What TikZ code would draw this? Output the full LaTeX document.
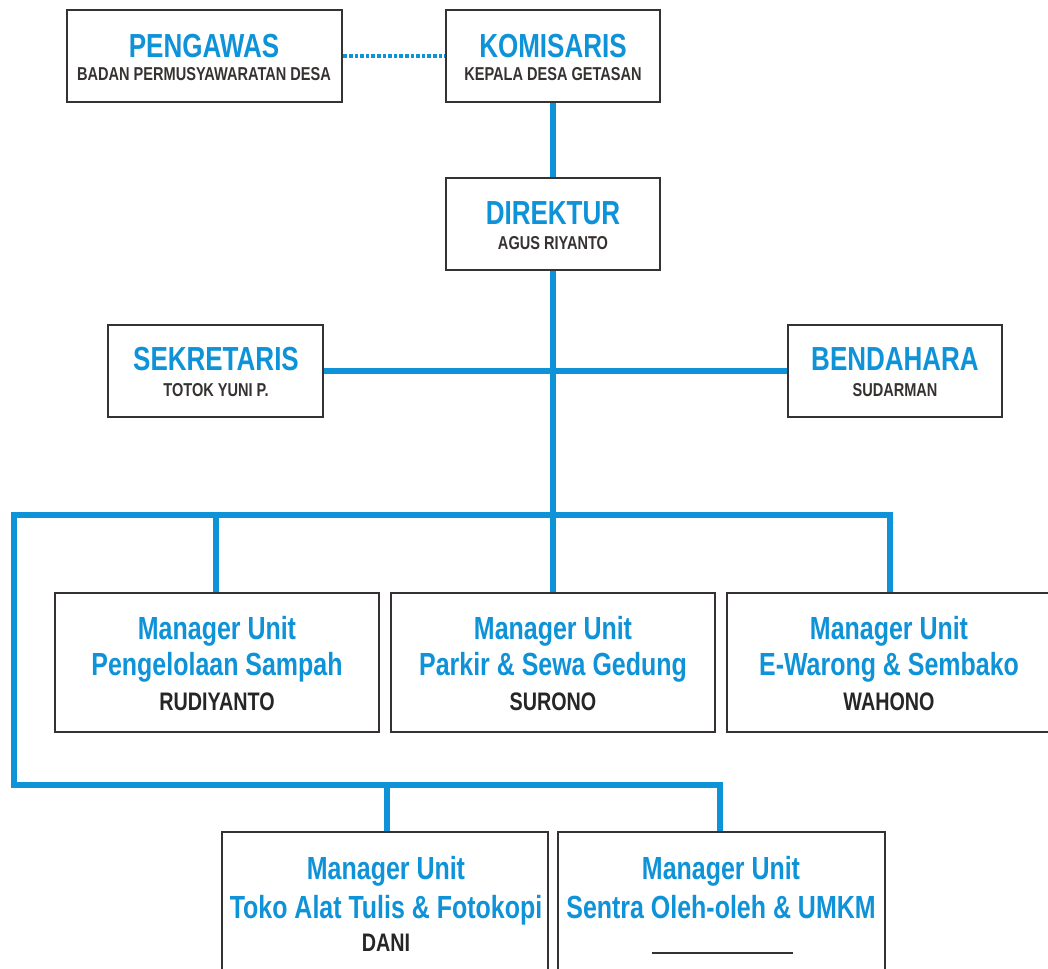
\documentclass[tikz,border=0pt]{standalone}
\usepackage{fontspec}
\setmainfont{Liberation Sans}[FakeStretch=0.78]
\usetikzlibrary{fit,backgrounds}
\definecolor{orgblue}{RGB}{14,146,216}
\definecolor{boxgray}{RGB}{55,50,50}
\begin{document}
\begin{tikzpicture}[x=0.75pt,y=-0.75pt,
  box/.style={draw=boxgray,line width=2.2pt,fill=white,inner sep=0pt},
  link/.style={draw=orgblue,line width=4.5pt},
  dotlink/.style={draw=orgblue,line width=3.2pt,dash pattern=on 2.6pt off 1.6pt},
  ttl/.style={anchor=base,text=orgblue,font=\bfseries\fontsize{25}{28}\selectfont,inner sep=0pt},
  sub/.style={anchor=base,text=boxgray,font=\bfseries\fontsize{14}{16}\selectfont,inner sep=0pt},
  mttl/.style={anchor=base,text=orgblue,font=\bfseries\fontsize{24}{27}\selectfont,inner sep=0pt},
  mname/.style={anchor=base,text=black!85,font=\bfseries\fontsize{19}{22}\selectfont,inner sep=0pt}]
\useasboundingbox (0,0) rectangle (1048,968);
\clip (0,0) rectangle (1048,968);

% boxes
\node[box,fit={(67,10) (342,102)}] (peng) {};
\node[box,fit={(446,10) (660,102)}] (kom) {};
\node[box,fit={(446,178) (660,270)}] (dir) {};
\node[box,fit={(108,325) (323,417)}] (sek) {};
\node[box,fit={(788,325) (1002,417)}] (ben) {};
\node[box,fit={(55,593) (379,732)}] (m1) {};
\node[box,fit={(391,593) (715,732)}] (m2) {};
\node[box,fit={(727,593) (1056,732)}] (m3) {};
\node[box,fit={(222,832) (548,1000)}] (m4) {};
\node[box,fit={(558,832) (885,1000)}] (m5) {};

% connectors
\coordinate (hub) at (553,515);
\coordinate (ltop) at (14,515);
\coordinate (rtop) at (890,515);
\coordinate (lbot) at (14,785);
\coordinate (rbot) at (720,785);
\begin{scope}[on background layer]
\fill[white] (0,0) rectangle (1048,968);
\draw[dotlink] (peng.east) -- (kom.west);
\draw[link] (kom.south) -- (dir.north);
\draw[link] (dir.south) -- (dir.south |- hub);
\draw[link] (sek.east) -- (ben.west);
\draw[link,line join=miter] (m3.north -| rtop) -- (rtop) -- (ltop) -- (lbot) -- (rbot) -- (m5.north -| rbot);
\draw[link] (m1.north -| 216,0) -- (216,515);
\draw[link] (m2.north) -- (m2.north |- hub);
\draw[link] (m4.north -| 387,0) -- (387,785);
\end{scope}

% texts
\node[ttl] (pengt) at (204,57) {PENGAWAS};
\node[sub] (pengs) at (204,80) {BADAN PERMUSYAWARATAN DESA};
\node[ttl] (komt) at (553,57) {KOMISARIS};
\node[sub] (koms) at (553,80) {KEPALA DESA GETASAN};
\node[ttl] (dirt) at (553,224) {DIREKTUR};
\node[sub] (dirs) at (553,249) {AGUS RIYANTO};
\node[ttl] (sekt) at (216,370) {SEKRETARIS};
\node[sub] (seks) at (216,396) {TOTOK YUNI P.};
\node[ttl] (bent) at (895,370) {BENDAHARA};
\node[sub] (bens) at (895,396) {SUDARMAN};

\node[mttl] (m1a) at (217,639) {Manager Unit};
\node[mttl] (m1b) at (217,675) {Pengelolaan Sampah};
\node[mname] (m1c) at (217,710) {RUDIYANTO};
\node[mttl] (m2a) at (553,639) {Manager Unit};
\node[mttl] (m2b) at (553,675) {Parkir \& Sewa Gedung};
\node[mname] (m2c) at (553,710) {SURONO};
\node[mttl] (m3a) at (889,639) {Manager Unit};
\node[mttl] (m3b) at (889,675) {E-Warong \& Sembako};
\node[mname] (m3c) at (889,710) {WAHONO};
\node[mttl] (m4a) at (386,879) {Manager Unit};
\node[mttl] (m4b) at (386,918) {Toko Alat Tulis \& Fotokopi};
\node[mname] (m4c) at (386,951) {DANI};
\node[mttl] (m5a) at (721,879) {Manager Unit};
\node[mttl] (m5b) at (721,918) {Sentra Oleh-oleh \& UMKM};
\coordinate (bl1) at (652,953);
\coordinate (bl2) at (793,953);
\draw[boxgray,line width=1.8pt] (bl1) -- (bl2);
\end{tikzpicture}
\end{document}
